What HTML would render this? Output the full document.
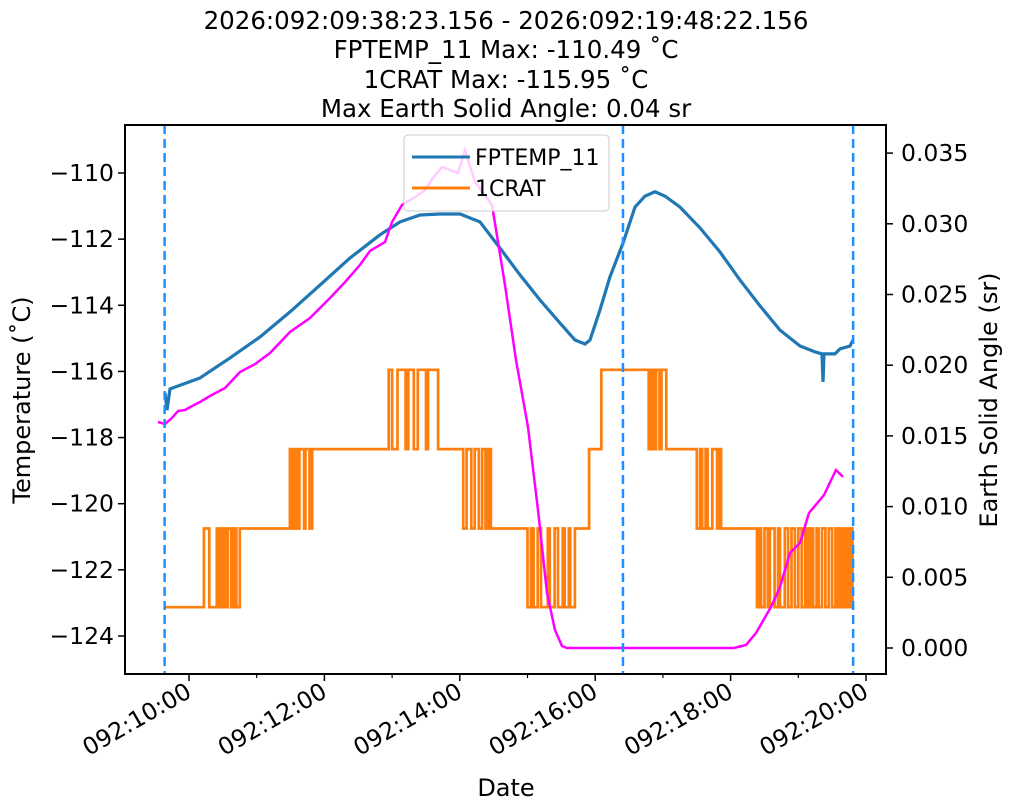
<!DOCTYPE html>
<html><head><meta charset="utf-8"><style>
body{margin:0;background:#fff;}
svg{display:block;font-family:"DejaVu Sans","Liberation Sans",sans-serif;}
</style></head><body>
<svg id="chart" width="1011" height="811" viewBox="0 0 1011 811" xmlns="http://www.w3.org/2000/svg">
<g font-size="24.5" text-anchor="middle" fill="#000">
<text x="506" y="29">2026:092:09:38:23.156 - 2026:092:19:48:22.156</text>
<text x="506" y="58">FPTEMP_11 Max: -110.49 ˚C</text>
<text x="506" y="88">1CRAT Max: -115.95 ˚C</text>
<text x="506" y="117">Max Earth Solid Angle: 0.04 sr</text>
</g>
<g id="plot"></g>
</svg>
<script>
const blueT=[9.645,9.675,9.719,10.162,10.606,11.049,11.492,11.935,12.378,12.821,13.117,13.412,13.708,14.003,14.298,14.594,14.889,15.185,15.480,15.702,15.849,15.923,16.071,16.219,16.411,16.588,16.736,16.883,17.031,17.253,17.548,17.843,18.139,18.434,18.730,19.025,19.247,19.350,19.365,19.380,19.542,19.616,19.764,19.808];
const blueV=[-116.65,-117.17,-116.53,-116.20,-115.59,-114.96,-114.20,-113.39,-112.57,-111.87,-111.48,-111.27,-111.24,-111.24,-111.48,-112.27,-113.08,-113.84,-114.54,-115.05,-115.17,-115.05,-114.14,-113.14,-112.12,-111.03,-110.70,-110.57,-110.70,-111.03,-111.66,-112.39,-113.24,-114.02,-114.75,-115.23,-115.41,-115.47,-116.32,-115.47,-115.47,-115.32,-115.23,-115.05];
const orangeT=[9.63,10.22,10.30,10.41,10.45,10.49,10.53,10.57,10.62,10.66,10.70,10.75,11.49,11.53,11.56,11.60,11.63,11.70,11.72,11.78,11.82,12.95,13.00,13.08,13.20,13.24,13.32,13.38,13.50,13.53,13.68,14.05,14.10,14.17,14.22,14.28,14.33,14.38,14.42,14.46,15.00,15.05,15.09,15.15,15.20,15.30,15.33,15.40,15.45,15.52,15.55,15.61,15.63,15.70,15.91,16.09,16.79,16.83,16.87,16.90,16.95,16.98,17.05,17.50,17.55,17.58,17.63,17.66,17.73,17.80,17.83,17.86,18.39,18.42,18.45,18.50,18.55,18.58,18.65,18.70,18.73,18.80,18.85,18.90,18.95,19.00,19.05,19.10,19.14,19.18,19.22,19.27,19.30,19.35,19.40,19.45,19.50,19.55,19.58,19.62,19.66,19.70,19.74,19.78,19.80,19.81];
const orangeV=[-123.13,-120.75,-123.13,-120.75,-123.13,-120.75,-123.13,-120.75,-123.13,-120.75,-123.13,-120.75,-118.35,-120.75,-118.35,-120.75,-118.35,-120.75,-118.35,-120.75,-118.35,-115.95,-118.35,-115.95,-118.35,-115.95,-118.35,-115.95,-118.35,-115.95,-118.35,-120.75,-118.35,-120.75,-118.35,-120.75,-118.35,-120.75,-118.35,-120.75,-123.13,-120.75,-123.13,-120.75,-123.13,-120.75,-123.13,-120.75,-123.13,-120.75,-123.13,-120.75,-123.13,-120.75,-118.35,-115.95,-118.35,-115.95,-118.35,-115.95,-118.35,-115.95,-118.35,-120.75,-118.35,-120.75,-118.35,-120.75,-118.35,-120.75,-118.35,-120.75,-123.13,-120.75,-123.13,-120.75,-123.13,-120.75,-123.13,-120.75,-123.13,-120.75,-123.13,-120.75,-123.13,-120.75,-123.13,-120.75,-123.13,-120.75,-123.13,-120.75,-123.13,-120.75,-123.13,-120.75,-123.13,-120.75,-123.13,-120.75,-123.13,-120.75,-123.13,-120.75,-123.13,-123.13];
const earthT=[9.542,9.645,9.749,9.838,9.941,10.044,10.162,10.310,10.532,10.753,10.975,11.196,11.492,11.787,12.083,12.304,12.526,12.674,12.895,12.999,13.146,13.338,13.486,13.604,13.737,13.973,14.077,14.225,14.476,14.668,14.830,15.007,15.155,15.288,15.406,15.510,15.583,18.050,18.227,18.375,18.597,18.730,18.877,19.025,19.158,19.380,19.557,19.660];
const earthV=[0.01598,0.01584,0.01627,0.01676,0.01683,0.01711,0.01740,0.01782,0.01839,0.01952,0.02008,0.02086,0.02235,0.02334,0.02475,0.02588,0.02709,0.02808,0.02871,0.03013,0.03133,0.03189,0.03239,0.03324,0.03402,0.03359,0.03522,0.03296,0.03133,0.02567,0.02037,0.01563,0.00976,0.00389,0.00127,0.00014,0,0,0.00021,0.00106,0.0029,0.00431,0.00672,0.00743,0.00955,0.01082,0.01259,0.0121];
const markerT=[9.64,16.41,19.81];
const tempTicks=[-110,-112,-114,-116,-118,-120,-122,-124];
const angleTicks=[0,0.005,0.010,0.015,0.020,0.025,0.030,0.035];
const dateTicks=[10,12,14,16,18,20];
const dateLabels=["092:10:00","092:12:00","092:14:00","092:16:00","092:18:00","092:20:00"];
const minorTicks=[11,13,15,17,19];

const L=125,R=886,T=125,B=674;
const X=h=>189+(h-10)*67.7;
const Y=v=>173+(-110-v)*33.07;
const Y2=v=>648-v/0.005*70.7;
const NS="http://www.w3.org/2000/svg";
const plot=document.getElementById('plot');
function mk(tag,attrs,parent){const e=document.createElementNS(NS,tag);for(const k in attrs)e.setAttribute(k,attrs[k]);(parent||plot).appendChild(e);return e;}

let d='';blueT.forEach((t,i)=>{d+=(i?'L':'M')+X(t).toFixed(1)+','+Y(blueV[i]).toFixed(1);});
const bl=mk('path',{d:d,fill:'none',stroke:'#1f77b4','stroke-width':3.2});


d='';orangeT.forEach((t,i)=>{if(i===0)d+='M'+X(t).toFixed(1)+','+Y(orangeV[i]).toFixed(1);else d+='H'+X(t).toFixed(1)+'V'+Y(orangeV[i]).toFixed(1);});
const ol=mk('path',{d:d,fill:'none',stroke:'#ff7f0e','stroke-width':2.7});


d='';earthT.forEach((t,i)=>{d+=(i?'L':'M')+X(t).toFixed(1)+','+Y2(earthV[i]).toFixed(1);});
const ml=mk('path',{d:d,fill:'none',stroke:'#ff00ff','stroke-width':2.5});


markerT.forEach(t=>{const l=mk('line',{x1:X(t),x2:X(t),y1:T,y2:B,stroke:'#1e90ff','stroke-width':2.5,'stroke-dasharray':'9,5'});

});

const fr=mk('rect',{x:L,y:T,width:R-L,height:B-T,fill:'none',stroke:'#000','stroke-width':2});


tempTicks.forEach(v=>{const y=Y(v);mk('line',{x1:L-7,x2:L,y1:y,y2:y,stroke:'#000','stroke-width':1.5});
const t=mk('text',{x:L-11,y:y+8,'font-size':23.5,'text-anchor':'end'});t.textContent=String(v).replace('-','−');

});
angleTicks.forEach(v=>{const y=Y2(v);mk('line',{x1:R,x2:R+7,y1:y,y2:y,stroke:'#000','stroke-width':1.5});
const t=mk('text',{x:R+15,y:y+8,'font-size':23.5});t.textContent=v.toFixed(3);

});
dateTicks.forEach((h,i)=>{const x=X(h);mk('line',{x1:x,x2:x,y1:B,y2:B+7,stroke:'#000','stroke-width':1.5});
const t=mk('text',{x:x+4,y:B+22,'font-size':23.5,'text-anchor':'end',transform:`rotate(-30 ${x+4} ${B+22})`});t.textContent=dateLabels[i];

});
minorTicks.forEach(h=>{const x=X(h);mk('line',{x1:x,x2:x,y1:B,y2:B+4,stroke:'#000','stroke-width':1.2});});
let t=mk('text',{x:506,y:796,'font-size':24,'text-anchor':'middle'});t.textContent='Date';


t=mk('text',{x:30,y:400,'font-size':24,'text-anchor':'middle',transform:'rotate(-90 30 400)'});t.textContent='Temperature (˚C)';


t=mk('text',{x:997,y:400,'font-size':24,'text-anchor':'middle',transform:'rotate(-90 997 400)'});t.textContent='Earth Solid Angle (sr)';



const lg=mk('g',{});


mk('rect',{x:404,y:135,width:205,height:76,rx:4,fill:'#fff','fill-opacity':0.8,stroke:'#ccc','stroke-width':1},lg);
mk('line',{x1:412,x2:470,y1:157,y2:157,stroke:'#1f77b4','stroke-width':3},lg);
mk('line',{x1:412,x2:470,y1:188,y2:188,stroke:'#ff7f0e','stroke-width':3},lg);
t=mk('text',{x:475,y:165,'font-size':22},lg);t.textContent='FPTEMP_11';


t=mk('text',{x:475,y:196,'font-size':22},lg);t.textContent='1CRAT';


</script>
</body></html>
